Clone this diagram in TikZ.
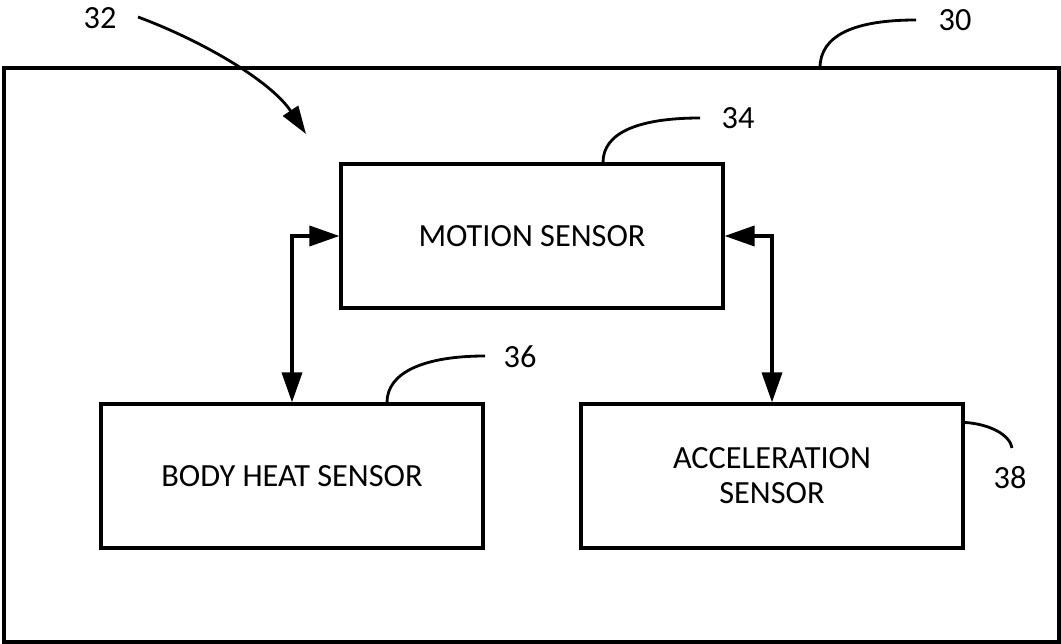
\documentclass[tikz,border=0pt]{standalone}
\usepackage{fontspec}
\setmainfont{Carlito}
\usepackage{tikz}
\usetikzlibrary{arrows.meta}

\tikzset{
    sensor/.style = {draw, rectangle, line width = 1.8pt, minimum width = 7.64cm, minimum height = 2.88cm, align = center, font = \fontsize{18.4}{20}\selectfont},
    refnum/.style = {font = \fontsize{18.4}{20}\selectfont},
    leader/.style = {line width = 1.6pt},
    link/.style = {line width = 2pt, {Triangle[length = 0.6cm, width = 0.4cm]}-{Triangle[length = 0.6cm, width = 0.4cm]}}
}

\begin{document}
\begin{tikzpicture}[x = 0.02cm, y = -0.02cm]
        \useasboundingbox (0, 0) rectangle (1061, 644);

        \draw[line width = 1.8pt] (4, 68) rectangle (1059, 642);

        \draw
            (532, 236) node[sensor](motion){MOTION SENSOR}
            (292, 476) node[sensor](bodyheat){BODY HEAT SENSOR}
            (772, 476) node[sensor](accel){ACCELERATION\\SENSOR}

            (100, 18) node[refnum](n32){32}
            (955, 20) node[refnum](n30){30}
            (738, 118) node[refnum](n34){34}
            (520, 357) node[refnum](n36){36}
            (1010, 478) node[refnum](n38){38}
        ;

        \draw[link] (bodyheat.north) |- (motion.west);
        \draw[link] (accel.north) |- (motion.east);

        % leader lines
        \coordinate (t30) at (820, 68);
        \coordinate (e30) at (916, 20);
        \coordinate (e34) at (700, 118);
        \coordinate (e36) at (485, 356);
        \coordinate (e38) at (1012, 448);
        \coordinate (s32) at (138, 17);
        \coordinate (e32) at (306, 134);

        \draw[leader]
            (t30) .. controls (820, 35) and (855, 20) .. (e30)
            (motion.north) ++ (71, 0) .. controls (603, 132) and (640, 118) .. (e34)
            (bodyheat.north) ++ (95, 0) .. controls (387, 372) and (425, 356) .. (e36)
            (accel.north east) ++ (0, 20) .. controls (990, 424) and (1010, 435) .. (e38)
        ;
        \draw[leader, -{Triangle[length = 0.56cm, width = 0.36cm]}]
            (s32) .. controls (200, 40) and (270, 80) .. (e32)
        ;
    \end{tikzpicture}
\end{document}
